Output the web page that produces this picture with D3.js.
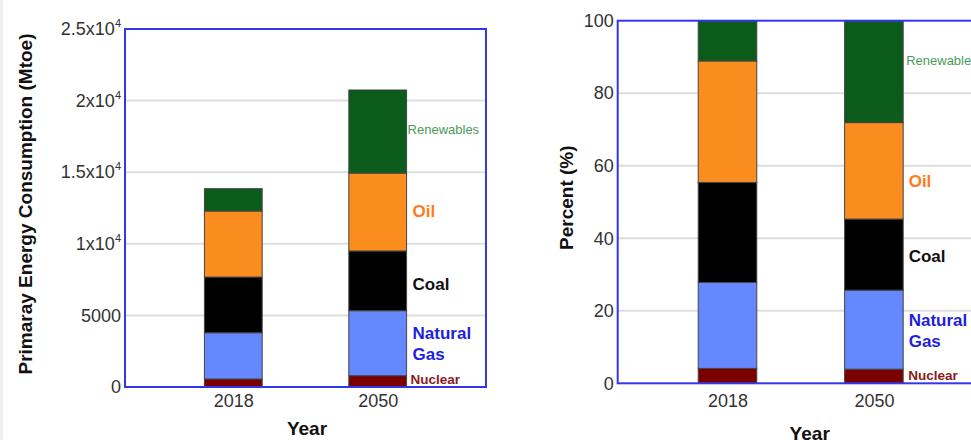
<!DOCTYPE html>
<html>
<head>
<meta charset="utf-8">
<script src="https://cdn.jsdelivr.net/npm/d3@7/dist/d3.min.js"></script>
<style>
  html, body { margin: 0; padding: 0; background: #fff; }
  svg { display: block; font-family: "Liberation Sans", Arial, sans-serif; }
</style>
</head>
<body>
<svg id="chart" width="971" height="440"></svg>
<script>
// ---- data ----
const years = ["2018", "2050"];
const sources = ["Nuclear", "Natural Gas", "Coal", "Oil", "Renewables"];

// primary energy consumption (Mtoe)
const nuclearMtoe    = [560, 790];
const naturalGasMtoe = [3230, 4540];
const coalMtoe       = [3890, 4170];
const oilMtoe        = [4610, 5440];
const renewablesMtoe = [1560, 5800];

// share of primary energy (%)
const nuclearPct    = [4.1, 3.9];
const naturalGasPct = [23.7, 21.8];
const coalPct       = [27.6, 19.6];
const oilPct        = [33.5, 26.6];
const renewablesPct = [11.1, 28.1];

const mtoeTicks = [0, 5000, 10000, 15000, 20000, 25000];
const mtoeTickLabels = ["0", "5000", "1x10^4", "1.5x10^4", "2x10^4", "2.5x10^4"];
const pctTicks = [0, 20, 40, 60, 80, 100];
const pctTickLabels = ["0", "20", "40", "60", "80", "100"];

// ---- styling ----
const barColors = {
  "Nuclear": "#7a0000",
  "Natural Gas": "#6688ff",
  "Coal": "#000000",
  "Oil": "#fb8c1e",
  "Renewables": "#0b5c1b"
};
const labelStyle = {
  "Nuclear":     { color: "#8b1a1a", size: 13.5, weight: "bold", lines: ["Nuclear"] },
  "Natural Gas": { color: "#1f1fdc", size: 17,   weight: "bold", lines: ["Natural", "Gas"] },
  "Coal":        { color: "#111111", size: 17,   weight: "bold", lines: ["Coal"] },
  "Oil":         { color: "#ff7a1a", size: 17,   weight: "bold", lines: ["Oil"] },
  "Renewables":  { color: "#4a9a58", size: 13,   weight: "normal", lines: ["Renewables"] }
};
const axisBlue = "#3535ec";
const gridGray = "#dedede";
const tickColor = "#333";

function rowsFrom(arrs) {
  return years.map((yr, i) => {
    const r = { year: yr };
    sources.forEach((s, k) => r[s] = arrs[k][i]);
    return r;
  });
}

const svg = d3.select("#chart");
svg.append("rect").attr("x", 0).attr("y", 0).attr("width", 3).attr("height", 440).attr("fill", "#f0f0f0");

function drawPanel(cfg) {
  const { left, top, width, height } = cfg;
  const g = svg.append("g").attr("transform", `translate(${left},${top})`);

  const x = d3.scalePoint().domain(years).range([0, width]).padding(0.75);
  const y = d3.scaleLinear().domain([0, cfg.yMax]).range([height, 0]);
  const barW = x.step() * 0.4;

  // gridlines
  g.append("g").selectAll("line")
    .data(cfg.ticks.filter(t => t > 0 && t < cfg.yMax))
    .join("line")
    .attr("x1", 0).attr("x2", width)
    .attr("y1", d => y(d)).attr("y2", d => y(d))
    .attr("stroke", gridGray).attr("stroke-width", 2);

  // stacked bars
  const rows = rowsFrom(cfg.series);
  const stack = d3.stack().keys(sources)(rows);
  g.append("g").selectAll("g")
    .data(stack)
    .join("g")
    .attr("fill", d => barColors[d.key])
    .selectAll("rect")
    .data(d => d)
    .join("rect")
    .attr("x", d => x(d.data.year) - barW / 2)
    .attr("width", barW)
    .attr("y", d => y(d[1]))
    .attr("height", d => y(d[0]) - y(d[1]))
    .attr("stroke", "#444")
    .attr("stroke-width", 1);

  // segment labels beside the last bar
  const lastIdx = years.length - 1;
  const barRight = x(years[lastIdx]) + barW / 2;
  stack.forEach(layer => {
    const seg = layer[lastIdx];
    const st = labelStyle[layer.key];
    const nudge = cfg.labelNudge[layer.key];
    const cy = (y(seg[0]) + y(seg[1])) / 2 + nudge.dy;
    const lh = 21;
    const t = g.append("text")
      .attr("x", barRight + nudge.dx)
      .attr("fill", st.color)
      .attr("font-size", st.size)
      .attr("font-weight", st.weight);
    st.lines.forEach((ln, i) => {
      t.append("tspan")
        .attr("x", barRight + nudge.dx)
        .attr("y", cy + (i - (st.lines.length - 1) / 2) * lh)
        .attr("dy", "0.35em")
        .text(ln);
    });
  });

  // frame
  g.append("rect")
    .attr("x", 0).attr("y", 0).attr("width", width).attr("height", height)
    .attr("fill", "none").attr("stroke", axisBlue).attr("stroke-width", 2);

  // y axis tick labels
  const yAxis = g.append("g")
    .call(d3.axisLeft(y).tickValues(cfg.ticks).tickSize(0).tickPadding(4));
  yAxis.select(".domain").remove();
  yAxis.selectAll("text")
    .attr("fill", tickColor)
    .attr("font-size", 18)
    .attr("font-family", "Liberation Sans, Arial, sans-serif")
    .each(function(d, i) {
      const lab = cfg.tickLabels[i];
      const sel = d3.select(this).text(null);
      const parts = lab.split("^");
      sel.append("tspan").text(parts[0]);
      if (parts[1]) {
        sel.append("tspan").attr("font-size", 11).attr("dy", "-0.75em").text(parts[1]);
      }
    });

  // x axis tick labels
  const xAxis = g.append("g")
    .attr("transform", `translate(0,${height})`)
    .call(d3.axisBottom(x).tickSize(0).tickPadding(cfg.xTickPad));
  xAxis.select(".domain").remove();
  xAxis.selectAll("text")
    .attr("fill", tickColor)
    .attr("font-size", 18)
    .attr("font-family", "Liberation Sans, Arial, sans-serif");

  // axis titles
  g.append("text")
    .attr("x", cfg.xTitlePos[0]).attr("y", cfg.xTitlePos[1])
    .attr("text-anchor", "middle")
    .attr("font-size", 19).attr("font-weight", "bold").attr("fill", "#111")
    .text("Year");
  g.append("text")
    .attr("transform", `translate(${cfg.yTitlePos[0]},${cfg.yTitlePos[1]}) rotate(-90)`)
    .attr("text-anchor", "middle")
    .attr("dy", "0.35em")
    .attr("font-size", 19).attr("font-weight", "bold").attr("fill", "#111")
    .text(cfg.yTitle);

  // panel tag
  g.append("text")
    .attr("x", cfg.tagPos[0]).attr("y", cfg.tagPos[1])
    .attr("text-anchor", "middle").attr("dy", "0.35em")
    .attr("font-size", 21).attr("fill", "#222")
    .text(cfg.tag);
}

drawPanel({
  left: 125, top: 29, width: 361, height: 358,
  yMax: 25000,
  ticks: mtoeTicks, tickLabels: mtoeTickLabels,
  series: [nuclearMtoe, naturalGasMtoe, coalMtoe, oilMtoe, renewablesMtoe],
  yTitle: "Primaray Energy Consumption (Mtoe)",
  yTitlePos: [-100, 175],
  xTitlePos: [182, 406],
  xTickPad: 7,
  tagPos: [175, 19],
  labelNudge: {
    "Renewables": { dx: 1, dy: -2.5 },
    "Oil": { dx: 6, dy: -1 },
    "Coal": { dx: 6, dy: 3 },
    "Natural Gas": { dx: 6, dy: 0 },
    "Nuclear": { dx: 4, dy: -2 }
  }
});

drawPanel({
  left: 617.7, top: 20.7, width: 366, height: 362.6,
  yMax: 100,
  ticks: pctTicks, tickLabels: pctTickLabels,
  series: [nuclearPct, naturalGasPct, coalPct, oilPct, renewablesPct],
  yTitle: "Percent (%)",
  yTitlePos: [-51.7, 177],
  xTitlePos: [192, 419],
  xTickPad: 11,
  tagPos: [177, 20],
  labelNudge: {
    "Renewables": { dx: 3, dy: -11 },
    "Oil": { dx: 5.5, dy: 10.7 },
    "Coal": { dx: 5.5, dy: 1.5 },
    "Natural Gas": { dx: 5.5, dy: 0.5 },
    "Nuclear": { dx: 5, dy: -1 }
  }
});
</script>
</body>
</html>
